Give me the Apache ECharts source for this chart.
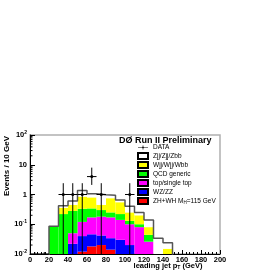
<!DOCTYPE html>
<html><head><meta charset="utf-8">
<script src="https://cdn.jsdelivr.net/npm/echarts@6/dist/echarts.min.js"></script>
<style>html,body{margin:0;padding:0;background:#fff}#c{width:266px;height:273px}</style>
</head><body><div id="c"></div>
<script>
// ---- data ----
const binLow = [0,10,20,30,40,50,60,70,80,90,100,110,120,130,140,150,160,170,180,190];
const binWidth = 10;
const zhWh  = [0,0,0,0,0,0.012,0.018,0.020,0.014,0,0,0,0,0,0,0,0,0,0,0];
const wzZz  = [0,0,0,0,0.022,0.028,0.028,0.022,0.020,0.030,0.020,0,0,0,0,0,0,0,0,0];
const topST = [0,0,0,0,0.028,0.080,0.124,0.138,0.136,0.110,0.080,0.080,0.026,0,0,0,0,0,0,0];
const qcd   = [0,0,0.085,0.22,0.23,0.21,0.17,0.12,0.08,0.08,0.03,0.02,0.018,0,0,0,0,0,0,0];
const wjets = [0,0,0,0.14,0.17,0.52,0.46,0.15,0.50,0.33,0.12,0.10,0.036,0,0.015,0,0,0,0,0];
const zjets = [0,0,0,0.06,0.15,0.50,0.25,0.53,0.20,0.10,0.15,0.05,0.06,0.034,0.009,0,0,0,0,0];
const dataCounts  = [0,0,null,1,1,1,4,1,null,null,1,null,null,null,null,null,null,null,null,null];
const dataErrLow  = [0,0,null,1,1,1,1.9,1,null,null,1,null,null,null,null,null,null,null,null,null];
const dataErrHigh = [0,0,null,1.4,1.4,1.4,4,1.4,null,null,1.4,null,null,null,null,null,null,null,null,null];
const xTicks = [0,20,40,60,80,100,120,140,160,180,200];
const yMajor = [0.01,0.1,1,10,100];
const yTickLabels = ['{b|10}{s|-2}','{b|10}{s|-1}','{b|1}','{b|10}','{b|10}{s|2}'];
const yMinorTicks = [0.02,0.03,0.04,0.05,0.06,0.07,0.08,0.09,0.2,0.3,0.4,0.5,0.6,0.7,0.8,0.9,2,3,4,5,6,7,8,9,20,30,40,50,60,70,80,90];

const layerNames  = ['ZH+WH M_H=115 GeV','WZ/ZZ','top/single top','QCD generic','Wjj/Wjj/Wbb','Zjj/Zjj/Zbb'];
const layerValues = [zhWh, wzZz, topST, qcd, wjets, zjets];
const layerColors = ['#ff0000','#0000ff','#ff00ff','#00ff00','#ffff00','#ffffff'];

const FLOOR = 1e-4;
const font = '"Liberation Sans", Arial, Helvetica, sans-serif';

// cumulative stacking
const cum = binLow.map(() => 0);
const layerSeries = layerValues.map((vals, li) => {
  const items = [];
  vals.forEach((v, i) => {
    const lo = cum[i];
    cum[i] += v;
    if (v > 0) items.push([binLow[i], binLow[i] + binWidth, Math.max(lo, FLOOR), cum[i]]);
  });
  return {
    type: 'custom', name: layerNames[li], z: 2,
    itemStyle: {color: layerColors[li], borderColor: '#000', borderWidth: 0.6},
    encode: {x: [0, 1], y: [2, 3]},
    data: items,
    renderItem: function (params, api) {
      const p0 = api.coord([api.value(0), api.value(3)]);
      const p1 = api.coord([api.value(1), api.value(2)]);
      const cs = params.coordSys;
      const r = echarts.graphic.clipRectByRect(
        {x: p0[0], y: p0[1], width: p1[0] - p0[0], height: p1[1] - p0[1]},
        {x: cs.x, y: cs.y, width: cs.width, height: cs.height});
      return r && {type: 'rect', shape: r, style: {fill: layerColors[li], stroke: null, lineWidth: 0}};
    }
  };
});

// total outline (step line)
const outline = [];
binLow.forEach((x, i) => outline.push([x, Math.max(cum[i], FLOOR)]));
outline.push([200, FLOOR]);

const dataItems = [];
dataCounts.forEach((n, i) => {
  if (n === null) return;
  dataItems.push([binLow[i], binLow[i] + binWidth, n, n - dataErrLow[i], n + dataErrHigh[i]]);
});

const chart = echarts.init(document.getElementById('c'), null, {renderer: 'canvas'});
chart.setOption({
  animation: false,
  backgroundColor: '#fff',
  textStyle: {fontFamily: font},
  title: {
    text: 'DØ Run II Preliminary', left: 119, top: 136, padding: 0,
    textStyle: {fontSize: 9, fontWeight: 'bold', color: '#000', fontFamily: font}
  },
  legend: {
    orient: 'vertical', left: 137, top: 144, padding: 0, itemWidth: 10, itemHeight: 6, itemGap: 1,
    textStyle: {fontSize: 6.5, color: '#000', fontFamily: font,
      rich: {s: {fontSize: 4.5, padding: [4, 0, 0, 0]}}},
    formatter: function (name) { return name === 'ZH+WH M_H=115 GeV' ? 'ZH+WH M{s|H}=115 GeV' : name; },
    data: [
      {name: 'DATA', icon: 'path://M0,4.5H20V5.5H0Z M9.5,0.5H10.5V9.5H9.5Z M8.5,3.5H11.5V6.5H8.5Z', itemStyle: {color: '#000', borderWidth: 0}},
      {name: 'Zjj/Zjj/Zbb', icon: 'rect'},
      {name: 'Wjj/Wjj/Wbb', icon: 'rect'},
      {name: 'QCD generic', icon: 'rect'},
      {name: 'top/single top', icon: 'rect'},
      {name: 'WZ/ZZ', icon: 'rect'},
      {name: 'ZH+WH M_H=115 GeV', icon: 'rect'}
    ],
    selectedMode: false
  },
  grid: {left: 30, top: 135, width: 190, height: 119, show: true, borderColor: '#b0b0b0', borderWidth: 1.5, backgroundColor: '#fff'},
  xAxis: {
    type: 'value', min: 0, max: 200, interval: 20,
    axisLine: {lineStyle: {color: '#000', width: 1}},
    axisTick: {inside: true, length: 4, lineStyle: {color: '#000'}},
    minorTick: {show: true, splitNumber: 5, length: 2, lineStyle: {color: '#000'}},
    splitLine: {show: false},
    axisLabel: {fontSize: 7.5, fontWeight: 'bold', color: '#000', margin: 2, fontFamily: font,
      customValues: xTicks}
  },
  yAxis: {
    type: 'log', logBase: 10, min: 0.01, max: 100,
    axisLine: {show: true, lineStyle: {color: '#000', width: 1}},
    axisTick: {inside: true, length: 5, lineStyle: {color: '#000'}},
    splitLine: {show: false},
    axisLabel: {
      margin: 3, color: '#000',
      formatter: function (v) {
        const k = yMajor.findIndex(m => Math.abs(Math.log10(m) - Math.log10(v)) < 1e-6);
        return k >= 0 ? yTickLabels[k] : '';
      },
      rich: {
        b: {fontSize: 7.5, fontWeight: 'bold', color: '#000', fontFamily: font},
        s: {fontSize: 5, fontWeight: 'bold', color: '#000', fontFamily: font, padding: [0, 0, 5, 0]}
      }
    }
  },
  graphic: [
    {type: 'text', x: 7, y: 166, rotation: Math.PI / 2,
      style: {text: 'Events / 10 GeV', fontSize: 8, fontWeight: 'bold', fill: '#000', align: 'center', verticalAlign: 'middle', fontFamily: font}},
    {type: 'text', x: 168, y: 266,
      style: {text: 'leading jet p{s|T} (GeV)', fontSize: 7.5, fontWeight: 'bold', fill: '#000', align: 'center', verticalAlign: 'middle', fontFamily: font,
        rich: {s: {fontSize: 5, fontWeight: 'bold', padding: [4, 0, 0, 0], fontFamily: font}}}}
  ],
  series: layerSeries.concat([
    {
      type: 'line', name: 'outline', step: 'end', data: outline, symbol: 'none', z: 3, clip: true,
      lineStyle: {color: '#555', width: 1.5}, silent: true
    },
    {
      type: 'custom', name: 'yminor', z: 5, silent: true,
      data: yMinorTicks.map(v => [0, v]),
      renderItem: function (params, api) {
        const p = api.coord([api.value(0), api.value(1)]);
        return {type: 'line', shape: {x1: p[0], y1: p[1], x2: p[0] + 2.5, y2: p[1]}, style: {stroke: '#000', lineWidth: 1}};
      }
    },
    {
      type: 'custom', name: 'DATA', z: 6,
      itemStyle: {color: '#000'},
      encode: {x: [0, 1], y: [2]},
      data: dataItems,
      renderItem: function (params, api) {
        const cs = params.coordSys;
        const yb = cs.y + cs.height;
        const clampY = y => Math.min(Math.max(y, cs.y), yb);
        const n = api.value(2);
        const x0 = api.coord([api.value(0), 1])[0];
        const x1 = api.coord([api.value(1), 1])[0];
        const xc = (x0 + x1) / 2;
        const yc = n > 0 ? api.coord([0, n])[1] : yb;
        const lo = api.value(3), hi = api.value(4);
        const yLo = lo > 0 ? clampY(api.coord([0, lo])[1]) : yb;
        const yHi = hi > 0 ? clampY(api.coord([0, hi])[1]) : yb;
        const children = [
          {type: 'line', shape: {x1: x0, y1: yc, x2: x1, y2: yc}, style: {stroke: '#000', lineWidth: 1}},
          {type: 'line', shape: {x1: xc, y1: yLo, x2: xc, y2: yHi}, style: {stroke: '#000', lineWidth: 1}}
        ];
        if (n > 0) children.push({type: 'circle', shape: {cx: xc, cy: yc, r: 1.5}, style: {fill: '#000'}});
        else children.push({type: 'line', shape: {x1: xc, y1: yc - 2, x2: xc, y2: yc}, style: {stroke: '#000', lineWidth: 1}});
        return {type: 'group', children: children};
      }
    }
  ])
});
</script></body></html>
